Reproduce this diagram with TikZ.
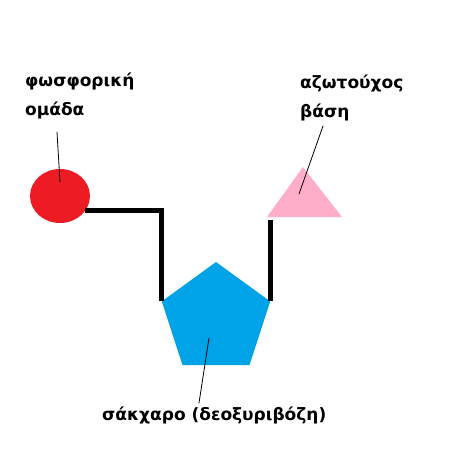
\documentclass[tikz,border=0pt]{standalone}
\usepackage{fontspec}
\setmainfont{DejaVu Sans}
\usetikzlibrary{shapes.geometric,calc}

\begin{document}
\begin{tikzpicture}
[x=1pt,y=-1pt,line cap=round,
% Styles
label text/.style={anchor=base west,align=left,inner sep=0pt,
  font=\bfseries\fontsize{17}{29}\selectfont},
leader/.style={line width=0.8pt},
bond/.style={line width=5pt,line cap=butt}]
% Colors
\definecolor{phoscolor}{HTML}{ED1C24}
\definecolor{sugarcolor}{HTML}{00A2E8}
\definecolor{basecolor}{HTML}{FFAEC9}

\useasboundingbox (0,0) rectangle (450,465);

% The graphic
\node[ellipse,fill=phoscolor,minimum width=60pt,minimum height=54pt,inner sep=0pt]
  (phosphate) at (60,196) {};
\node[regular polygon,regular polygon sides=5,fill=sugarcolor,
  minimum size=114pt,inner sep=0pt] (sugar) at (216,319) {};
\fill[basecolor] (303,167) coordinate (base top) -- (342,217) coordinate (base right)
  -- (267,217) coordinate (base left) -- cycle;

% Bonds
\draw[bond] (phosphate.-30) -| (sugar.corner 2);
\draw[bond] (sugar.corner 5) -- (sugar.corner 5 |- 0,220);

% Labels (base = last line)
\node[label text] (phoslabel) at (25,116) {φωσφορική\\ομάδα};
\node[label text] (baselabel) at (300,118) {αζωτούχος\\βάση};
\node[label text] (sugarlabel) at (102,420) {σάκχαρο (δεοξυριβόζη)};
\coordinate (phos end) at (57,132);
\coordinate (base end) at (323,126);
\coordinate (sugar end) at (199,403);
\draw[leader] (phos end) -- ($(phosphate.center)+(0,-14)$);
\draw[leader] (base end) -- (299,194);
\draw[leader] (sugar end) -- ($(sugar.center)+(-7,19)$);
\end{tikzpicture}
\end{document}
